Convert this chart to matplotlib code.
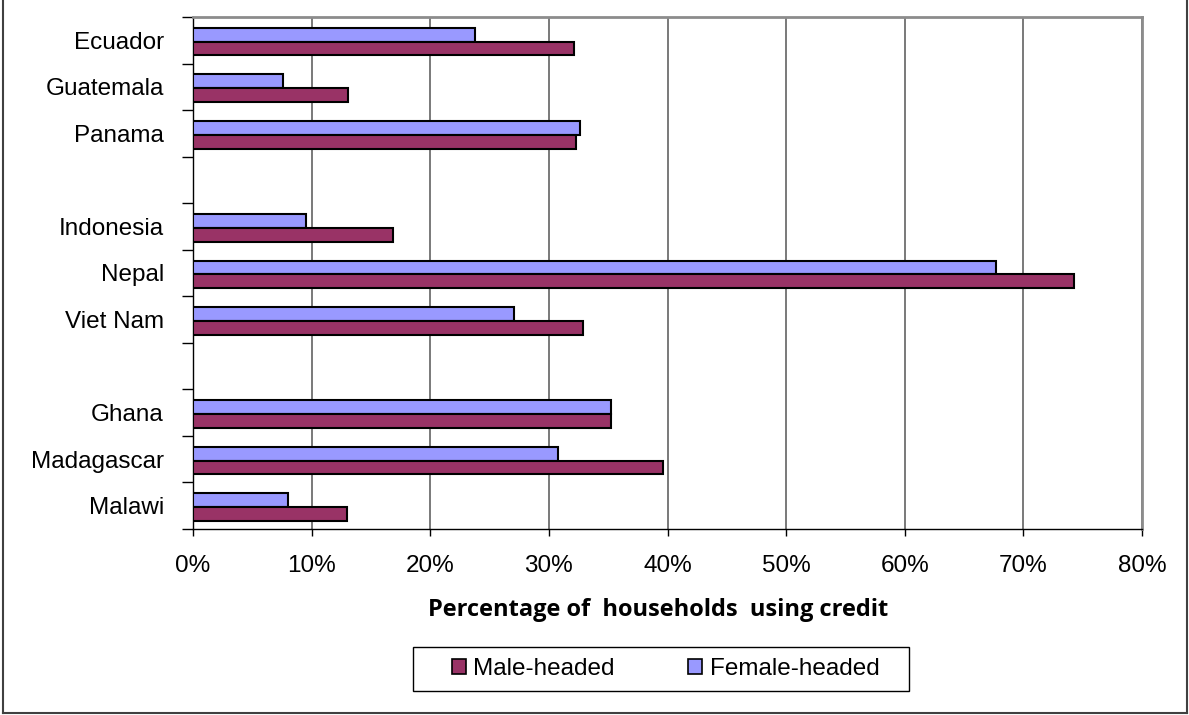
import matplotlib.pyplot as plt
from matplotlib.patches import Patch, Rectangle
from matplotlib.lines import Line2D
from matplotlib.ticker import FixedLocator, FuncFormatter

# countries in display order, blank slots separate the three regions
countries = ['Ecuador', 'Guatemala', 'Panama', '',
             'Indonesia', 'Nepal', 'Viet Nam', '',
             'Ghana', 'Madagascar', 'Malawi']
male_headed = [32.1, 13.1, 32.3, None, 16.9, 74.3, 32.9, None, 35.2, 39.6, 13.0]
female_headed = [23.8, 7.6, 32.6, None, 9.5, 67.7, 27.1, None, 35.2, 30.8, 8.0]
x_ticks = [0, 10, 20, 30, 40, 50, 60, 70, 80]

MALE = '#993366'
FEMALE = '#9999FF'
FONT = 'Liberation Sans'

W, H = 1189, 715
fig = plt.figure(figsize=(W / 100, H / 100), dpi=100)
ax = fig.add_axes([193 / W, 1 - 529 / H, (1142 - 193) / W, (529 - 17) / H])

bar_h = 0.295
for i, (m, f) in enumerate(zip(male_headed, female_headed)):
    if m is None:
        continue
    ax.barh(i - 0.118, f, height=bar_h, color=FEMALE, edgecolor='black', linewidth=1.5, zorder=3)
    ax.barh(i + 0.178, m, height=bar_h, color=MALE, edgecolor='black', linewidth=1.5, zorder=3)

ax.set_xlim(0, 80)
ax.set_ylim(len(countries) - 0.5, -0.5)

ax.xaxis.set_major_locator(FixedLocator(x_ticks))
ax.xaxis.set_major_formatter(FuncFormatter(lambda v, p: f'{v:.0f}%'))
ax.tick_params(axis='x', length=5, width=1, pad=14, labelsize=17.5, color='black')
for lab in ax.get_xticklabels():
    lab.set_fontfamily(FONT)

# category boundaries carry the tick marks, names sit between them
ax.yaxis.set_major_locator(FixedLocator([k - 0.5 for k in range(len(countries) + 1)]))
ax.yaxis.set_major_formatter(FuncFormatter(lambda v, p: ''))
ax.yaxis.set_minor_locator(FixedLocator(range(len(countries))))
ax.set_yticklabels(countries, minor=True, fontsize=17.5, fontfamily=FONT)
ax.tick_params(axis='y', which='major', length=8, width=1, color='black')
ax.tick_params(axis='y', which='minor', length=0, pad=21)

ax.grid(axis='x', color='#6e6e6e', linewidth=1.3, zorder=0)
ax.set_axisbelow(True)
for side in ('top', 'right'):
    ax.spines[side].set_color('#8c8c8c')
    ax.spines[side].set_linewidth(2)
for side in ('left', 'bottom'):
    ax.spines[side].set_color('black')
    ax.spines[side].set_linewidth(1)

fig.text(658 / W, 1 - 616 / H, 'Percentage of  households  using credit',
         ha='center', va='baseline', fontsize=17, fontweight='bold', fontfamily='Open Sans')

handles = [Patch(facecolor=MALE, edgecolor='black', linewidth=1.2, label='Male-headed'),
           Patch(facecolor=FEMALE, edgecolor='black', linewidth=1.2, label='Female-headed')]
leg = fig.legend(handles=handles, loc='center', bbox_to_anchor=(665.5 / W, 1 - 669 / H),
                 ncol=2, frameon=False, handlelength=0.6, handleheight=0.6,
                 handletextpad=0.3, columnspacing=3.0, borderpad=0,
                 prop={'family': FONT, 'size': 17.5})
fig.add_artist(Rectangle((413 / W, 1 - 691 / H), (909 - 413) / W, 44 / H,
                         transform=fig.transFigure, fill=False, edgecolor='black', linewidth=1))

# outer chart border
border = dict(transform=fig.transFigure, color='#404040', linewidth=1.5)
fig.add_artist(Line2D([3 / W, 3 / W], [2 / H, 1.0], **border))
fig.add_artist(Line2D([1187 / W, 1187 / W], [2 / H, 1.0], **border))
fig.add_artist(Line2D([3 / W, 1187 / W], [2 / H, 2 / H], **border))

fig.savefig('out.png', dpi=100)
